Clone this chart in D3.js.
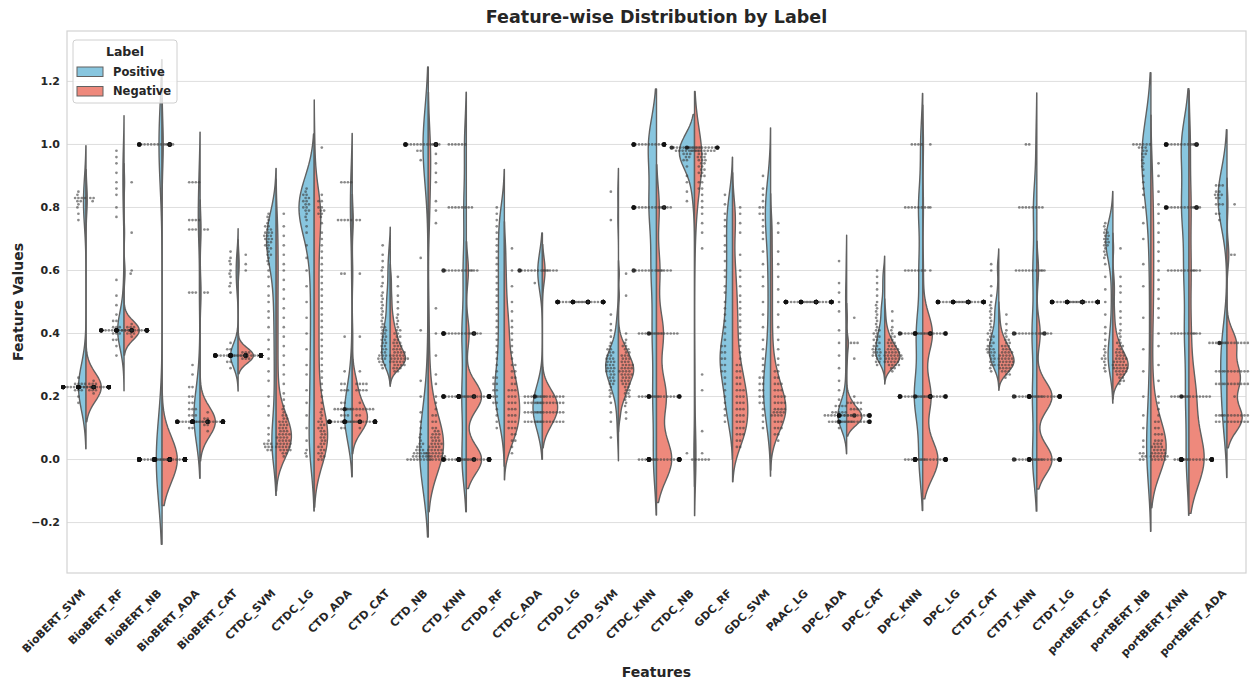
<!DOCTYPE html>
<html>
<head>
<meta charset="utf-8">
<script src="https://cdn.jsdelivr.net/npm/d3@7"></script>
<style>
  body { margin: 0; background: #fff; }
  svg { display: block; }
  text { font-family: "DejaVu Sans", sans-serif; fill: #262626; }
</style>
</head>
<body>
<svg id="chart" width="1250" height="684"></svg>
<script>
// ---- data -------------------------------------------------------------
// Each entry is either a single value or [value, count] for repeated values.
const features = [
  "BioBERT_SVM", "BioBERT_RF", "BioBERT_NB", "BioBERT_ADA", "BioBERT_CAT",
  "CTDC_SVM", "CTDC_LG", "CTD_ADA", "CTD_CAT", "CTD_NB", "CTD_KNN",
  "CTDD_RF", "CTDC_ADA", "CTDD_LG", "CTDD_SVM", "CTDC_KNN", "CTDC_NB",
  "GDC_RF", "GDC_SVM", "PAAC_LG", "DPC_ADA", "DPC_CAT", "DPC_KNN", "DPC_LG",
  "CTDT_CAT", "CTDT_KNN", "CTDT_LG", "portBERT_CAT", "portBERT_NB",
  "portBERT_KNN", "portBERT_ADA"
];

const legendLabels = ["Positive", "Negative"];

const positiveValues = [
  [0.85,0.84,[0.83,4],[0.82,2],0.81,0.8,0.78,0.76,[0.24,4],[0.23,24],[0.22,3],0.26,0.2,0.18],
  [0.98,0.96,0.94,0.91,0.88,0.86,0.84,0.8,0.77,0.57,0.52,0.49,0.46,[0.44,2],[0.42,3],[0.41,18],[0.4,3],[0.38,2],0.36,0.33],
  [[1,16],[0,30]],
  [[0.88,4],[0.76,4],[0.73,3],[0.53,3],0.3,0.27,[0.23,2],[0.2,2],[0.18,2],[0.16,3],[0.14,3],[0.12,16],[0.1,2]],
  [0.66,0.64,0.63,0.62,0.6,0.59,0.58,0.56,0.55,0.53,0.37,[0.35,2],[0.33,20],[0.31,2],0.29],
  [0.78,0.77,0.76,0.75,[0.74,2],[0.73,2],[0.72,3],[0.71,3],[0.7,3],[0.69,2],[0.68,2],[0.67,2],0.66,[0.65,2],0.64,0.63,0.62,0.6,0.58,0.55,0.52,0.5,0.47,0.45,0.42,0.38,0.35,0.32,0.28,0.25,0.2,0.17,0.14,0.1,0.08,0.06,[0.05,3],[0.04,3],[0.03,2]],
  [0.86,0.85,[0.84,2],[0.83,2],[0.82,2],[0.81,2],[0.8,2],[0.79,2],0.78,0.77,0.76,0.74,0.72,0.68,0.64,0.6,0.55,0.5,0.45,0.4,0.35,0.3,0.27,0.22,0.18,0.14,0.1,0.06,0.03,0.02,0.01],
  [[0.88,4],[0.76,5],[0.59,2],0.39,0.28,[0.24,2],[0.22,3],[0.18,2],[0.16,6],[0.14,3],[0.12,14],[0.1,2]],
  [0.68,0.65,0.63,0.61,0.6,0.58,0.56,0.55,0.53,0.52,0.51,0.5,0.49,0.48,0.47,0.46,0.45,0.44,0.43,[0.42,2],[0.41,2],[0.4,2],[0.39,2],[0.38,2],[0.37,2],[0.36,2],[0.35,2],[0.34,2],[0.33,3],[0.32,3],[0.31,2],[0.3,2],0.29],
  [[1,16],[0.98,2],0.95,0.64,0.41,0.25,0.2,0.15,0.12,0.1,0.08,0.07,0.06,[0.05,2],[0.04,2],[0.03,3],[0.02,5],[0.01,6],[0,8]],
  [[1,6],[0.8,8],[0.6,10],[0.4,14],[0.2,14],[0,14]],
  [0.8,0.78,0.76,0.74,0.72,0.7,0.68,0.66,0.64,0.62,0.6,0.58,0.56,0.54,0.52,0.5,0.48,0.46,0.44,0.42,0.4,0.38,0.36,0.34,0.32,0.3,0.28,[0.26,2],[0.24,2],[0.22,2],[0.2,2],[0.18,2],0.16,0.14,0.12,0.1],
  [[0.6,10],0.56,[0.2,7],[0.18,6],[0.15,6],[0.12,6]],
  [[0.5,20]],
  [0.85,0.76,0.46,0.43,0.41,0.39,0.37,0.36,[0.35,2],[0.34,2],[0.33,2],[0.32,3],[0.31,3],[0.3,3],[0.29,3],[0.28,3],[0.27,2],[0.26,2],[0.25,2],[0.24,2],0.23,0.22,0.21,0.2,0.18,0.15,0.12,0.07],
  [[1,16],[0.8,14],[0.6,10],[0.4,8],[0.2,7],[0,6]],
  [[0.99,10],[0.98,8],[0.97,3],[0.96,2],[0.95,2],0.93,0.9,0.88,0.85,0.82,0.02],
  [0.84,0.81,0.78,0.76,0.74,0.71,0.68,0.66,0.63,0.6,0.58,0.55,0.53,0.5,0.48,0.46,0.44,0.42,0.4,0.38,[0.36,2],[0.34,2],[0.32,2],[0.3,2],[0.28,2],0.26,0.24,0.22,0.2,0.18,0.16,0.14,0.12],
  [0.9,0.86,0.84,0.82,[0.8,2],[0.78,2],0.76,0.74,0.72,0.7,0.66,0.62,0.58,0.55,0.5,0.46,0.42,0.38,0.35,0.32,0.3,0.28,[0.26,2],[0.24,2],[0.22,2],[0.2,2],[0.18,2],0.16,0.14,0.12,0.1],
  [[0.5,20]],
  [0.63,0.56,0.53,0.5,0.47,0.41,0.37,0.33,0.29,0.25,0.22,0.19,[0.17,4],[0.15,5],[0.14,10],[0.12,8],0.1],
  [0.6,0.58,0.56,0.54,0.52,0.5,0.49,0.48,0.47,0.46,0.45,0.44,0.43,0.42,[0.41,2],[0.4,2],[0.39,2],[0.38,2],[0.37,2],[0.36,2],[0.35,3],[0.34,3],[0.33,3],[0.32,2],[0.31,2],0.3],
  [[1,4],[0.8,8],[0.6,7],[0.4,12],[0.2,16],[0,7]],
  [[0.5,20]],
  [0.62,0.6,0.55,0.52,0.5,0.49,0.48,0.47,0.46,0.45,0.44,0.43,0.42,0.41,[0.4,2],[0.39,2],[0.38,2],[0.37,2],[0.36,2],[0.35,3],[0.34,3],[0.33,2],[0.32,2],[0.31,2],[0.3,2],0.29,0.28],
  [[1,2],[0.8,8],[0.6,9],[0.4,11],[0.2,10],[0,10]],
  [[0.5,20]],
  [0.75,0.74,0.73,[0.72,2],[0.71,2],[0.7,2],[0.69,2],[0.68,2],0.67,0.66,0.65,0.64,0.62,0.58,0.54,0.5,0.46,0.42,0.4,0.38,0.36,0.35,0.34,0.33,[0.32,2],0.31,0.3,0.29,0.28],
  [[1,6],[0.99,3],[0.98,2],[0.97,2],0.96,0.95,0.94,0.93,0.92,0.9,0.88,0.86,0.84,0.8,0.75,0.7,0.62,0.55,0.45,0.35,0.28,0.2,0.14,0.1,0.06,0.04,[0.02,2],[0.01,2],[0,2]],
  [[1,14],[0.8,13],[0.6,9],[0.4,8],[0.2,6],[0,5]],
  [[0.87,3],[0.85,2],[0.84,3],[0.83,2],[0.81,3],[0.78,2],0.76,[0.37,6],[0.28,3],[0.24,3],[0.14,3],[0.12,2]]
];

const negativeValues = [
  [[0.83,2],0.82,[0.24,3],[0.23,30],[0.22,3],0.25,0.21],
  [0.88,0.72,0.6,0.59,0.43,[0.42,3],[0.41,24],[0.4,3],0.39],
  [[1,3],[0,40]],
  [[0.73,2],[0.53,2],0.15,[0.13,2],[0.12,28],[0.11,2],0.09],
  [0.65,0.62,0.6,[0.34,3],[0.33,28],[0.32,3]],
  [0.78,0.74,0.71,0.68,0.65,0.62,0.6,0.57,0.54,0.51,0.48,0.45,0.42,0.39,0.36,0.33,0.3,0.27,0.24,0.21,0.19,0.17,0.16,0.15,[0.14,2],[0.13,2],[0.12,3],[0.11,3],[0.1,3],[0.09,3],[0.08,4],[0.07,4],[0.06,4],[0.05,5],[0.04,5],[0.03,4],[0.02,2],0.01],
  [0.99,0.84,[0.82,2],[0.8,2],[0.79,2],[0.78,2],0.77,0.75,0.72,0.7,0.68,0.66,0.64,0.62,0.6,0.58,0.56,0.54,0.52,0.5,0.48,0.46,0.44,0.42,0.4,0.38,0.36,0.34,0.32,0.3,0.28,0.26,0.24,0.22,0.2,0.18,0.16,0.15,0.14,0.13,[0.12,2],[0.11,2],[0.1,2],[0.09,2],[0.08,2],[0.07,2],[0.06,2],[0.05,2],[0.04,2],[0.03,2],[0.02,2],[0.01,2],[0,2]],
  [[0.76,2],0.59,0.39,0.28,[0.24,4],[0.22,4],0.18,[0.16,10],[0.14,2],[0.12,20],0.1],
  [0.58,0.55,0.52,0.5,0.48,0.46,0.45,0.44,0.43,0.42,[0.41,2],[0.4,2],[0.39,2],[0.38,2],[0.37,3],[0.36,3],[0.35,3],[0.34,4],[0.33,5],[0.32,6],[0.31,5],[0.3,4],[0.29,3],[0.28,2]],
  [[1,3],0.97,0.94,0.91,0.88,0.82,0.79,0.75,0.48,0.4,0.33,0.27,0.24,0.2,0.18,0.16,[0.14,2],[0.12,2],[0.1,2],[0.09,2],[0.08,3],[0.07,3],[0.06,3],[0.05,4],[0.04,4],[0.03,5],[0.02,6],[0.01,6],[0,4]],
  [[0.6,3],[0.4,4],[0.2,22],[0,22]],
  [0.67,0.6,0.55,0.5,0.47,0.44,0.42,0.4,0.38,0.36,0.34,0.32,[0.3,2],[0.28,2],[0.26,2],[0.24,2],[0.22,3],[0.2,3],[0.18,3],[0.16,3],[0.14,3],[0.12,3],[0.1,3],[0.08,2],[0.06,2],0.04,0.02],
  [[0.6,5],[0.2,10],[0.18,9],[0.15,9],[0.12,9]],
  [[0.5,20]],
  [0.59,0.52,0.4,0.38,0.37,[0.36,2],[0.35,2],[0.34,2],[0.33,3],[0.32,3],[0.31,3],[0.3,4],[0.29,4],[0.28,4],[0.27,4],[0.26,3],[0.25,3],[0.24,3],[0.23,2],[0.22,2],[0.21,2],[0.2,2],0.19,0.18,0.17,0.15,0.13],
  [[0.8,4],[0.6,5],[0.4,10],[0.2,14],[0,22]],
  [[0.99,12],[0.98,8],[0.97,3],[0.96,3],[0.95,3],[0.94,2],[0.93,2],[0.92,2],[0.91,2],[0.9,2],[0.88,2],[0.86,2],0.84,0.82,0.8,0.78,0.75,0.72,0.67,0.27,0.22,0.09,0.02,[0,6]],
  [0.8,0.78,0.75,0.72,0.65,0.6,0.58,0.55,0.52,0.5,0.48,0.46,0.44,0.42,0.4,0.38,0.36,0.34,0.32,[0.3,2],[0.28,2],[0.26,2],[0.24,2],[0.22,3],[0.2,3],[0.18,3],[0.16,3],[0.14,3],[0.12,3],[0.1,3],[0.08,3],[0.06,2],[0.04,2]],
  [0.75,0.72,0.66,0.62,0.58,0.54,0.5,0.46,0.42,0.38,0.35,0.32,0.3,[0.28,2],[0.26,2],[0.24,3],[0.22,3],[0.2,4],[0.18,4],[0.16,4],[0.15,4],[0.14,4],[0.12,3],[0.1,3],[0.08,2],0.06],
  [[0.5,20]],
  [0.45,[0.37,3],0.32,0.2,[0.18,5],[0.16,4],[0.14,15],[0.12,12]],
  [0.47,0.44,0.42,0.41,0.4,[0.39,2],[0.38,2],[0.37,3],[0.36,3],[0.35,4],[0.34,5],[0.33,6],[0.32,6],[0.31,5],[0.3,4],[0.29,2],0.28],
  [1,0.8,0.6,[0.4,14],[0.2,12],[0,22]],
  [[0.5,20]],
  [0.46,0.43,0.41,0.4,0.39,[0.38,2],[0.37,2],[0.36,3],[0.35,3],[0.34,4],[0.33,4],[0.32,5],[0.31,5],[0.3,5],[0.29,4],[0.28,3],[0.27,2],0.26],
  [[0.6,2],[0.4,4],[0.2,18],[0,18]],
  [[0.5,20]],
  [0.67,0.58,0.55,0.53,0.5,0.47,0.45,0.43,0.41,0.4,0.39,0.38,[0.37,2],[0.36,2],[0.35,2],[0.34,3],[0.33,3],[0.32,4],[0.31,4],[0.3,5],[0.29,5],[0.28,4],[0.27,3],[0.26,2],[0.25,2],0.24],
  [0.94,0.9,0.85,0.81,0.78,0.75,0.72,0.69,0.66,0.63,0.6,0.57,0.54,0.51,0.48,0.45,0.4,0.36,0.3,0.25,0.2,0.18,0.16,0.14,[0.12,2],[0.1,2],[0.08,3],[0.06,3],[0.05,3],[0.04,4],[0.03,4],[0.02,5],[0.01,6],[0,5]],
  [[1,2],[0.8,3],[0.6,3],[0.4,3],[0.2,10],[0,22]],
  [0.81,[0.65,2],[0.37,10],[0.28,8],[0.24,8],0.2,[0.14,9],[0.12,8]]
];

const yTicks = [-0.2, 0.0, 0.2, 0.4, 0.6, 0.8, 1.0, 1.2];

// ---- layout -----------------------------------------------------------
const plot = { left: 67, right: 1246, top: 31, bottom: 573 };
const colors = { Positive: "#88c6df", Negative: "#ee897c" };
const outline = "#616161";

const svg = d3.select("#chart");

const x = d3.scaleBand().domain(features).range([plot.left, plot.right]).padding(0);
const y = d3.scaleLinear().domain([-0.36, 1.36]).range([plot.bottom, plot.top]);
const step = x.bandwidth();
const cx = f => x(f) + step / 2;

const expand = arr => arr.flatMap(e => Array.isArray(e) ? Array(e[1]).fill(e[0]) : [e]);

// gridlines
svg.append("g").selectAll("line").data(yTicks).join("line")
  .attr("x1", plot.left).attr("x2", plot.right)
  .attr("y1", d => y(d)).attr("y2", d => y(d))
  .attr("stroke", "#dedede").attr("stroke-width", 1);

// frame
svg.append("rect")
  .attr("x", plot.left).attr("y", plot.top)
  .attr("width", plot.right - plot.left).attr("height", plot.bottom - plot.top)
  .attr("fill", "none").attr("stroke", "#d2d2d2").attr("stroke-width", 1.2);

// ---- kernel density (Gaussian, Scott's rule, cut = 2 bandwidths) ------
function density(values) {
  const n = values.length;
  const mean = d3.mean(values);
  const sd = Math.sqrt(d3.sum(values, v => (v - mean) ** 2) / (n - 1));
  if (!(sd > 1e-9)) return null;
  const bw = Math.max(0.6 * sd * Math.pow(n, -0.2), 0.02);
  const lo = d3.min(values) - 2 * bw, hi = d3.max(values) + 2 * bw;
  const grid = d3.range(100).map(i => lo + (hi - lo) * i / 99);
  const k = 1 / (n * bw * Math.sqrt(2 * Math.PI));
  return grid.map(g => ({ v: g, d: k * d3.sum(values, v => Math.exp(-0.5 * ((g - v) / bw) ** 2)) }));
}

const violinLayer = svg.append("g");
const pointLayer = svg.append("g");
const halfWidth = 0.4 * step;

features.forEach((f, i) => {
  const c = cx(f);
  const pos = expand(positiveValues[i]);
  const neg = expand(negativeValues[i]);
  const dPos = density(pos), dNeg = density(neg);
  const maxD = d3.max([dPos, dNeg].filter(Boolean).flat(), p => p.d) || 1;
  const w = d3.scaleLinear().domain([0, maxD]).range([0, halfWidth]);

  [[dPos, -1, colors.Positive], [dNeg, 1, colors.Negative]].forEach(([dens, side, col]) => {
    if (!dens) return;
    const area = d3.area()
      .y(p => y(p.v))
      .x0(c)
      .x1(p => c + side * w(p.d));
    violinLayer.append("path")
      .attr("d", area(dens))
      .attr("fill", col)
      .attr("stroke", outline)
      .attr("stroke-width", 1.4)
      .attr("stroke-linejoin", "round");
  });

  // swarm points, one column per label
  [[pos, -1], [neg, 1]].forEach(([vals, side]) => {
    const hx = c + side * 0.2 * step;
    swarm(vals, hx, halfWidth, 3.3).forEach(p => {
      pointLayer.append("circle")
        .attr("cx", p.x).attr("cy", p.y)
        .attr("r", p.edge ? 2.2 : 1.35)
        .attr("fill", p.edge ? "#111" : "#3c3c3c")
        .attr("fill-opacity", p.edge ? 0.85 : 0.6);
    });
  });
});

function swarm(vals, hx, half, d) {
  const pts = vals.map(v => ({ v, y: y(v) })).sort((a, b) => a.y - b.y);
  const placed = [];
  for (const p of pts) {
    const neigh = [];
    for (let k = placed.length - 1; k >= 0; k--) {
      if (p.y - placed[k].y >= d) break;
      neigh.push(placed[k]);
    }
    const cands = [hx];
    for (const q of neigh) {
      const dy = p.y - q.y;
      const dx = Math.sqrt(Math.max(0, d * d - dy * dy));
      cands.push(q.x - dx, q.x + dx);
    }
    cands.sort((a, b) => Math.abs(a - hx) - Math.abs(b - hx));
    let px = cands[cands.length - 1];
    for (const cand of cands) {
      if (neigh.every(q => (cand - q.x) ** 2 + (p.y - q.y) ** 2 >= d * d - 1e-6)) { px = cand; break; }
    }
    p.x = px;
    placed.push(p);
  }
  placed.forEach(p => {
    if (p.x < hx - half) { p.x = hx - half; p.edge = true; }
    else if (p.x > hx + half) { p.x = hx + half; p.edge = true; }
  });
  return placed;
}

// ---- axes -------------------------------------------------------------
svg.append("g").selectAll("text").data(yTicks).join("text")
  .attr("x", plot.left - 7).attr("y", d => y(d))
  .attr("dy", "0.35em")
  .attr("text-anchor", "end")
  .attr("font-size", 11).attr("font-weight", "bold")
  .text(d => d3.format(".1f")(d).replace("-", "\u2212"));

svg.append("g").selectAll("text").data(features).join("text")
  .attr("transform", f => `translate(${cx(f)},${plot.bottom + 21}) rotate(-45)`)
  .attr("text-anchor", "end")
  .attr("font-size", 11).attr("font-weight", "bold")
  .text(f => f);

svg.append("text")
  .attr("x", (plot.left + plot.right) / 2).attr("y", 23)
  .attr("text-anchor", "middle")
  .attr("font-size", 17.5).attr("font-weight", "bold")
  .text("Feature-wise Distribution by Label");

svg.append("text")
  .attr("x", (plot.left + plot.right) / 2).attr("y", 677)
  .attr("text-anchor", "middle")
  .attr("font-size", 14).attr("font-weight", "bold")
  .text("Features");

svg.append("text")
  .attr("transform", `translate(23,${(plot.top + plot.bottom) / 2}) rotate(-90)`)
  .attr("text-anchor", "middle")
  .attr("font-size", 14).attr("font-weight", "bold")
  .text("Feature Values");

// ---- legend -----------------------------------------------------------
const legend = svg.append("g").attr("transform", "translate(73,40)");
legend.append("rect")
  .attr("width", 104).attr("height", 63).attr("rx", 3)
  .attr("fill", "#fff").attr("fill-opacity", 0.8)
  .attr("stroke", "#d0d0d0");
legend.append("text")
  .attr("x", 52).attr("y", 16)
  .attr("text-anchor", "middle")
  .attr("font-size", 12.5).attr("font-weight", "bold")
  .text("Label");
legendLabels.forEach((lab, i) => {
  const g = legend.append("g").attr("transform", `translate(4,${27 + i * 19.5})`);
  g.append("rect").attr("width", 26).attr("height", 9.5)
    .attr("fill", colors[lab]).attr("stroke", outline).attr("stroke-width", 1);
  g.append("text").attr("x", 36).attr("y", 4.8).attr("dy", "0.35em")
    .attr("font-size", 11.5).attr("font-weight", "bold")
    .text(lab);
});
</script>
</body>
</html>
